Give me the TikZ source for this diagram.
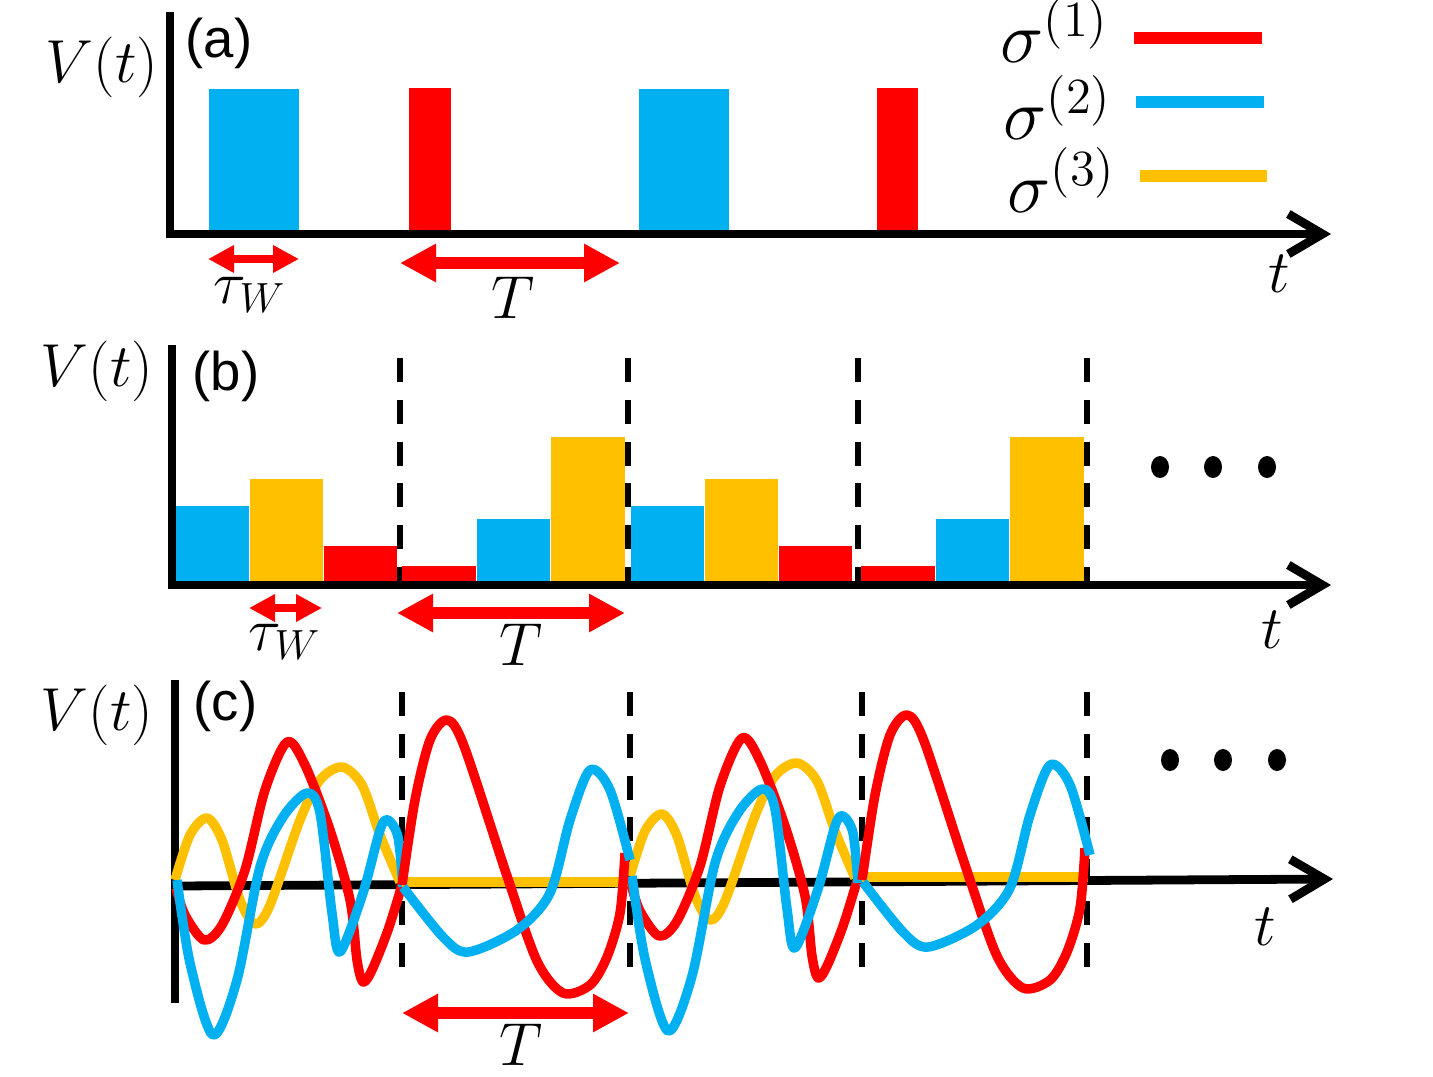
\documentclass[tikz,border=0pt]{standalone}
\usepackage{fontspec}
\newfontfamily\labfont{Liberation Sans}
\usetikzlibrary{arrows.meta}
\definecolor{cred}{HTML}{FF0000}
\definecolor{cblue}{HTML}{00B0F0}
\definecolor{cyellow}{HTML}{FFC000}

\begin{document}
\begin{tikzpicture}[
  axis/.style={line width=2.5pt, -{Straight Barb[length=0.34cm,width=0.40cm]}},
  guide/.style={line width=1.7pt, dash pattern=on 6.8pt off 5.1pt},
  span/.style={cred, line width=3.4pt, {Triangle[length=0.36cm,width=0.36cm]}-{Triangle[length=0.36cm,width=0.36cm]}},
  spanw/.style={cred, line width=2.5pt, {Triangle[length=0.26cm,width=0.26cm]}-{Triangle[length=0.26cm,width=0.26cm]}},
  wave/.style={line width=2.7pt, line join=round},
  key/.style={line width=3.4pt},
  lab/.style={font=\fontsize{18}{21}\selectfont, inner sep=0pt},
  leg/.style={font=\fontsize{20}{23}\selectfont, inner sep=0pt},
  tag/.style={font=\labfont\fontsize{15.5}{18}\selectfont, inner sep=0pt}
]
\useasboundingbox (0,0) rectangle (14.33,10.76);

% (a) single pulses
\fill[cblue] (2.09,8.42) rectangle (2.99,9.87);
\fill[cred] (4.09,8.42) rectangle (4.51,9.88);
\fill[cblue] (6.39,8.42) rectangle (7.29,9.87);
\fill[cred] (8.77,8.42) rectangle (9.18,9.88);
\draw[axis] (1.70,10.64) -- (1.70,8.42) -- (13.31,8.42);
\node[lab, anchor=base west] (va) at (0.45,9.93) {$V(t)$};
\node[tag, anchor=base west] (ta) at (1.85,10.18) {(a)};
\node[lab, anchor=base] (tta) at (12.79,7.83) {$t$};
\draw[spanw] (2.08,8.17) -- (2.99,8.17);
\node[lab, anchor=base] (twa) at (2.50,7.73) {$\tau_W$};
\draw[span] (4.00,8.13) -- (6.20,8.13);
\node[lab, anchor=base] (Ta) at (5.13,7.58) {$T$};

% legend
\node[leg, anchor=base west] (s1) at (10.00,10.13) {$\sigma^{(1)}$};
\node[leg, anchor=base west] (s2) at (10.03,9.36) {$\sigma^{(2)}$};
\node[leg, anchor=base west] (s3) at (10.07,8.64) {$\sigma^{(3)}$};
\draw[key, cred] (11.34,10.38) -- (12.62,10.38);
\draw[key, cblue] (11.36,9.74) -- (12.64,9.74);
\draw[key, cyellow] (11.40,9.00) -- (12.67,9.00);

% (b) stepped amplitudes
\foreach \x in {4.00,6.28,8.58,10.87}
	\draw[guide] (\x,7.18) -- (\x,4.91);
\foreach \s/\r in {0/0,4.55/4.59}{
\fill[cblue] (1.76+\s,4.91) rectangle (2.49+\s,5.70);
\fill[cyellow] (2.50+\s,4.91) rectangle (3.23+\s,5.97);
\fill[cred] (3.24+\s,4.91) rectangle (3.97+\s,5.30);
\fill[cred] (4.02+\r,4.91) rectangle (4.76+\r,5.10);
\fill[cblue] (4.77+\r,4.91) rectangle (5.50+\r,5.57);
\fill[cyellow] (5.51+\r,4.91) rectangle (6.25+\r,6.39);
}
\draw[axis] (1.72,7.31) -- (1.72,4.91) -- (13.31,4.91);
\foreach \x in {11.60,12.13,12.67}
	\fill (\x,6.09) ellipse [x radius=0.09, y radius=0.11];
\node[lab, anchor=base west] (vb) at (0.40,6.90) {$V(t)$};
\node[tag, anchor=base west] (tb) at (1.92,6.86) {(b)};
\node[lab, anchor=base] (ttb) at (12.72,4.28) {$t$};
\draw[spanw] (2.49,4.68) -- (3.22,4.68);
\node[lab, anchor=base] (twb) at (2.85,4.26) {$\tau_W$};
\draw[span] (3.97,4.63) -- (6.25,4.63);
\node[lab, anchor=base] (Tb) at (5.21,4.11) {$T$};

% (c) smooth waveforms
\foreach \x in {4.02,6.30,8.62,10.87}
	\draw[guide] (\x,3.84) -- (\x,1.04);
\draw[line width=2.5pt] (1.75,3.96) -- (1.75,0.73);
\draw[axis] (1.75,1.90) -- (13.33,1.97);
\foreach \s/\h in {0/0,4.55/0.04}{
\begin{scope}[shift={({1.75+\s},{1.90+\h})}]
\draw[wave, cyellow] plot[smooth] coordinates {(0,0.06) (0.15,0.51) (0.32,0.68)
	(0.47,0.46) (0.65,-0.14) (0.80,-0.38) (0.95,-0.19) (1.25,0.66) (1.45,1.06)
	(1.67,1.19) (1.87,1.01) (2.05,0.51) (2.25,0.04)};
\draw[wave, cred] plot[smooth] coordinates {(0.01,-0.02) (0.10,-0.29) (0.29,-0.54)
	(0.47,-0.39) (0.70,0.16) (0.90,0.96) (1.12,1.44) (1.30,1.21) (1.55,0.56)
	(1.75,-0.14) (1.82,-0.74) (1.88,-0.96) (1.97,-0.84) (2.13,-0.44) (2.27,0.01)};
\draw[wave, cblue] plot[smooth] coordinates {(0.02,0.06) (0.15,-0.77) (0.38,-1.49)
	(0.62,-0.94) (0.85,0.19) (1.08,0.69) (1.32,0.93) (1.45,0.73) (1.57,-0.27)
	(1.65,-0.66) (1.88,-0.07) (2.05,0.56) (2.13,0.66) (2.23,0.49) (2.28,-0.01)};
\end{scope}}
\foreach \s/\h in {0/0,4.60/0.05}{
\begin{scope}[shift={({4.02+\s},{1.90+\h})}]
\draw[wave, cyellow] (0,0.04) -- (2.26,0.04);
\draw[wave, cred] plot[smooth] coordinates {(0,0.01) (0.13,0.86) (0.28,1.46)
	(0.45,1.66) (0.62,1.40) (1.05,0.10) (1.35,-0.75) (1.61,-1.07)
	(1.88,-0.99) (2.05,-0.71) (2.18,-0.27) (2.23,0.33)};
\draw[wave, cblue] plot[smooth] coordinates {(0.01,-0.01) (0.41,-0.51) (0.66,-0.66)
	(1.15,-0.44) (1.48,-0.07) (1.68,0.66) (1.88,1.16) (2.08,0.96) (2.28,0.26)};
\end{scope}}
\foreach \x in {11.70,12.23,12.77}
	\fill (\x,3.16) ellipse [x radius=0.09, y radius=0.11];
\node[lab, anchor=base west] (vc) at (0.40,3.46) {$V(t)$};
\node[tag, anchor=base west] (tc) at (1.93,3.56) {(c)};
\node[lab, anchor=base] (ttc) at (12.65,1.31) {$t$};
\draw[span] (4.02,0.63) -- (6.29,0.63);
\node[lab, anchor=base] (Tc) at (5.21,0.11) {$T$};

\end{tikzpicture}
\end{document}
